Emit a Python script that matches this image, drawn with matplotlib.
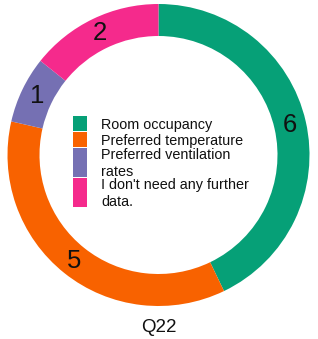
import matplotlib.pyplot as plt
from matplotlib.patches import Rectangle

plt.rcParams['font.family'] = ['Liberation Sans', 'DejaVu Sans']

categories = ['Room occupancy', 'Preferred temperature',
              'Preferred ventilation\nrates', "I don't need any further\ndata."]
counts = [6, 5, 1, 2]
colors = ['#06a077', '#f86200', '#7570b3', '#f52a8c']
title = 'Q22'

W, H = 318, 339
fig = plt.figure(figsize=(W / 100, H / 100), dpi=100)
ax = fig.add_axes([0, 0, 1, 1])

cx, cy, r_out, ring = 158.5, H - 155, 151, 32
wedges, texts = ax.pie(counts, colors=colors, startangle=90, counterclock=False,
                       center=(cx, cy), radius=r_out, frame=True,
                       labels=[str(c) for c in counts], labeldistance=(r_out - ring / 2) / r_out,
                       wedgeprops=dict(width=ring, edgecolor='none'),
                       textprops=dict(fontsize=18.5, ha='center', va='center', color='#111111'))
ax.set_xlim(0, W)
ax.set_ylim(0, H)
ax.set_aspect('equal')
ax.axis('off')

# legend drawn by hand, ggplot style keys
y = H - 116
x_key, key_w, x_txt = 73, 14, 101
for lab, col in zip(categories, colors):
    n = lab.count('\n') + 1
    h = 15 if n == 1 else 29
    ax.add_patch(Rectangle((x_key, y - h), key_w, h, color=col, lw=0))
    ax.text(x_txt, y - h / 2 - 1, lab, fontsize=10.4, ha='left', va='center',
            linespacing=1.2, color='#111111')
    y -= h + 1

ax.text(cx, H - 327, title, fontsize=13.5, ha='center', va='center', color='#111111')

fig.savefig('out.png', dpi=100)
